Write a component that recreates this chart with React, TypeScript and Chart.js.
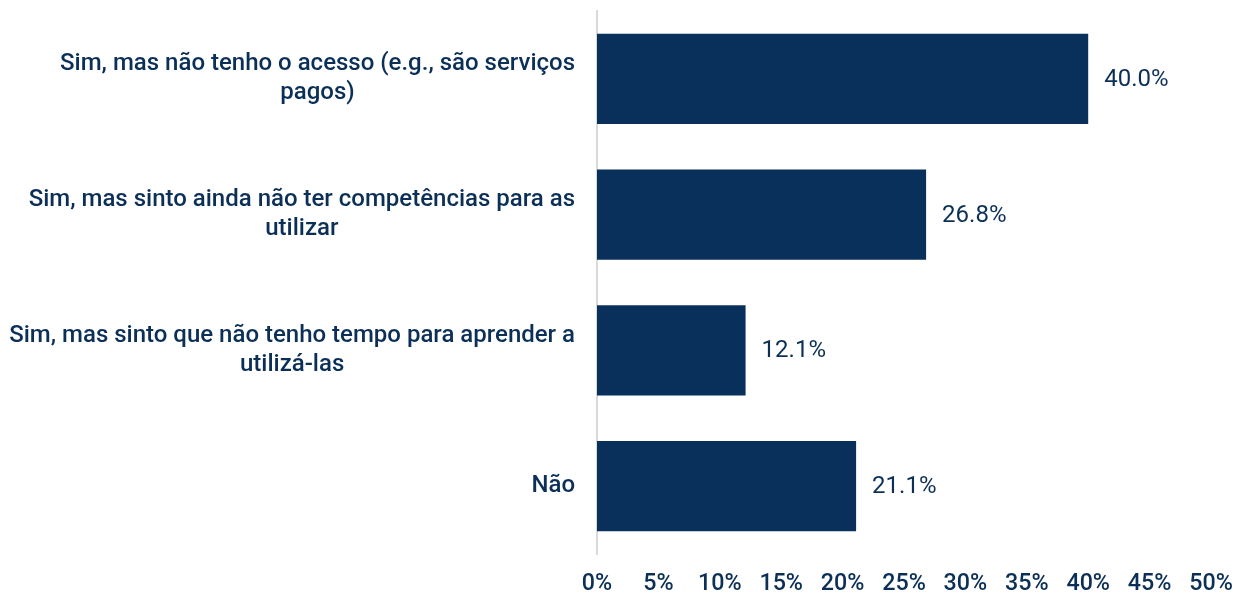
import React, { useEffect, useRef } from "react";
import { Chart, registerables } from "chart.js";

Chart.register(...registerables);

const categories: string[][] = [
  ["Sim, mas não tenho o acesso (e.g., são serviços", "pagos)"],
  ["Sim, mas sinto ainda não ter competências para as", "utilizar"],
  ["Sim, mas sinto que não tenho tempo para aprender a", "utilizá-las"],
  ["Não"],
];
const values: number[] = [40.0, 26.8, 12.1, 21.1];
const xMin = 0;
const xMax = 50;
const xStep = 5;

const NAVY = "#08305A";
const TEXT = "#0B2F57";

const labelsPlugin = {
  id: "customLabels",
  afterDatasetsDraw(chart: any) {
    const ctx: CanvasRenderingContext2D = chart.ctx;
    const meta = chart.getDatasetMeta(0);
    ctx.save();
    // value labels
    ctx.fillStyle = TEXT;
    ctx.font = "400 24px Roboto";
    ctx.textAlign = "left";
    ctx.textBaseline = "middle";
    meta.data.forEach((bar: any, i: number) => {
      ctx.fillText(values[i].toFixed(1) + "%", bar.x + 16, bar.y + 1);
    });
    // y category labels: right aligned block, lines centered within block
    const yScale = chart.scales.y;
    ctx.font = "500 24px Roboto";
    ctx.textAlign = "center";
    const rightEdge = chart.chartArea.left - 22;
    const lineH = 29;
    categories.forEach((lines, i) => {
      const yc = yScale.getPixelForTick(i);
      const widest = Math.max(...lines.map((l) => ctx.measureText(l).width));
      const cx = rightEdge - widest / 2;
      const y0 = yc - ((lines.length - 1) * lineH) / 2;
      lines.forEach((l, j) => ctx.fillText(l, cx, y0 + j * lineH));
    });
    // x tick labels
    const xScale = chart.scales.x;
    ctx.font = "500 24px Roboto";
    ctx.textBaseline = "middle";
    const sx = 0.97;
    xScale.ticks.forEach((t: any, i: number) => {
      const px = xScale.getPixelForTick(i);
      ctx.save();
      ctx.translate(px, 584);
      ctx.scale(sx, 1);
      ctx.fillText(t.value + "%", 0, 0);
      ctx.restore();
    });
    ctx.restore();
  },
};

export default function App() {
  const ref = useRef<HTMLCanvasElement>(null);
  useEffect(() => {
    if (!ref.current) return;
    const chart = new Chart(ref.current, {
      type: "bar",
      data: {
        labels: categories.map((c) => c.join(" ")),
        datasets: [
          {
            data: values,
            backgroundColor: NAVY,
            borderWidth: 0,
            categoryPercentage: 1,
            barPercentage: 0.665,
          },
        ],
      },
      options: {
        indexAxis: "y",
        animation: false,
        responsive: false,
        devicePixelRatio: 1,
        layout: { padding: { left: 597, right: 31, top: 11, bottom: 0 } },
        plugins: { legend: { display: false }, tooltip: { enabled: false } },
        scales: {
          x: {
            min: xMin,
            max: xMax,
            ticks: {
              stepSize: xStep,
              color: "rgba(0,0,0,0)",
              font: { family: "Roboto", size: 12 },
              padding: 0,
            },
            grid: { display: false },
            border: { display: false },
            afterFit: (scale: any) => {
              scale.height = 42;
            },
          },
          y: {
            ticks: { display: false },
            grid: { display: false },
            border: { display: true, color: "#D9D9D9", width: 2 },
            afterFit: (scale: any) => {
              scale.width = 0;
            },
          },
        },
      },
      plugins: [labelsPlugin],
    });
    return () => chart.destroy();
  }, []);
  return (
    <div style={{ position: "fixed", left: 0, top: 0, width: 1242, height: 596, background: "#fff" }}>
      <canvas ref={ref} width={1242} height={596} style={{ display: "block" }} />
    </div>
  );
}
